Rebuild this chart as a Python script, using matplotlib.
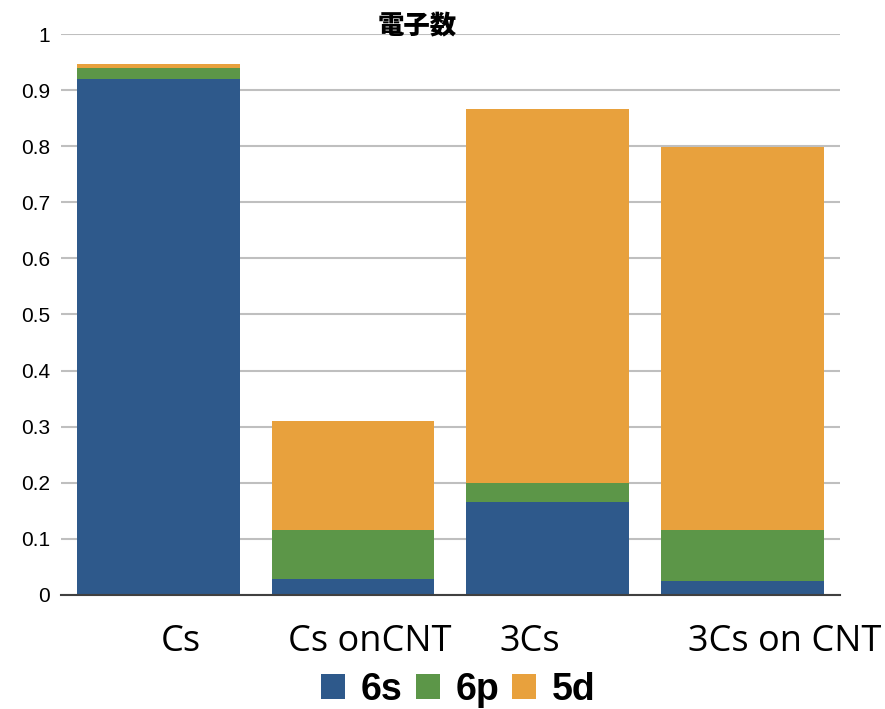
import numpy as np
import matplotlib.pyplot as plt
from matplotlib.transforms import ScaledTranslation

categories = ['Cs', 'Cs onCNT', '3Cs', '3Cs on CNT']
orbitals = ['6s', '6p', '5d']
val_6s = [0.920, 0.029, 0.166, 0.025]
val_6p = [0.019, 0.087, 0.034, 0.091]
val_5d = [0.007, 0.194, 0.666, 0.683]
y_ticks = [0, 0.1, 0.2, 0.3, 0.4, 0.5, 0.6, 0.7, 0.8, 0.9, 1]
y_labels = ['0', '0.1', '0.2', '0.3', '0.4', '0.5', '0.6', '0.7', '0.8', '0.9', '1']

colors = ['#2E598B', '#5C9648', '#E8A13D']

fig = plt.figure(figsize=(8.85, 7.09), dpi=100)
ax = fig.add_axes([0.069, 0.161, 0.880, 0.791])

x = np.arange(len(categories))
bottom = np.zeros(len(categories))
for name, vals, c in zip(orbitals, [val_6s, val_6p, val_5d], colors):
    ax.bar(x, vals, width=0.836, bottom=bottom, color=c, label=name, zorder=3)
    bottom += np.array(vals)

ax.set_xlim(-0.5, 3.5)
ax.set_ylim(0, 1)
ax.set_yticks(y_ticks)
ax.set_yticklabels(y_labels, family=['Liberation Sans Narrow', 'Liberation Sans'], fontsize=15)
ax.yaxis.grid(True, color='#BFBFBF', linewidth=1.5, zorder=0)
ax.tick_params(axis='y', length=0, pad=8)

ax.set_xticks(x)
ax.set_xticklabels(categories, family='Open Sans', fontsize=26)
ax.tick_params(axis='x', length=0, pad=21)
# nudge category labels sideways
for lab, dx in zip(ax.get_xticklabels(), [22, 17, -18, 42]):
    lab.set_transform(lab.get_transform() + ScaledTranslation(dx / 100, 0, fig.dpi_scale_trans))

for s in ['top', 'right', 'left']:
    ax.spines[s].set_visible(False)
ax.spines['bottom'].set_color('#404040')
ax.spines['bottom'].set_linewidth(1.5)
ax.spines['bottom'].set_zorder(4)

ax.text(0.457, 0.99, '電子数', transform=ax.transAxes, ha='center', va='bottom',
        family=['Noto Sans CJK JP', 'DejaVu Sans'], fontweight='heavy', fontsize=19)

fig.legend(loc='lower center', bbox_to_anchor=(0.518, -0.046), ncol=3, frameon=False,
           prop={'family': 'Liberation Sans', 'weight': 'bold', 'size': 27},
           handlelength=0.64, handleheight=0.64, handletextpad=0.42, columnspacing=0.35)

fig.savefig('out.png', dpi=100)
